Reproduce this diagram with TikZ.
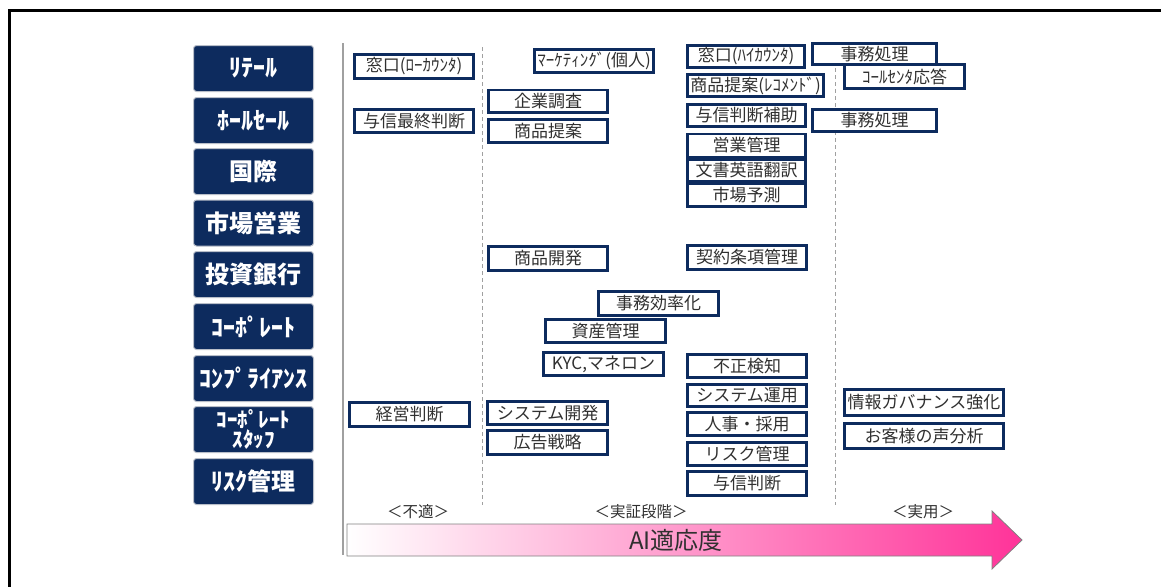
\documentclass[tikz,border=0pt]{standalone}
\usepackage{fontspec}
\setmainfont{Noto Sans CJK JP}
\usetikzlibrary{shadows}
\definecolor{navy}{HTML}{0D2B5E}
\definecolor{catborder}{HTML}{B8BEC9}
\definecolor{itemtext}{HTML}{303030}
\definecolor{pinkend}{HTML}{FF3399}
\definecolor{axisgray}{HTML}{A0A0A0}
\newcommand\mkitem[6]{\node[itembox, minimum width={#4pt-2.6pt}, minimum height={#5pt-2.6pt}] (#1) at (#2,#3) {#6};}
\begin{document}
\begin{tikzpicture}[x=1pt,y=-1pt,
  catbox/.style={fill=navy, draw=catborder, line width=1pt, rounded corners=3pt,
    minimum width=120pt, minimum height=46pt, text=white, inner sep=0pt,
    font=\fontsize{24}{26}\selectfont\bfseries},
  itembox/.style={fill=white, draw=navy, line width=2.6pt, text=itemtext, inner sep=0pt,
    font=\fontsize{17}{18}\selectfont,
    drop shadow={shadow xshift=1pt, shadow yshift=-1pt, opacity=0.22, fill=black}},
  stage/.style={text=itemtext, font=\fontsize{15.5}{17}\selectfont, inner sep=0pt},
  dline/.style={draw=axisgray, line width=1.5pt, dash pattern=on 4pt off 3pt}]
\useasboundingbox (0,0) rectangle (1161,587);
% frame
\draw[line width=3pt] (1161,10.5) -- (9.5,10.5) -- (9.5,587);
% axis and dashed separators
\coordinate (axT) at (343,43); \coordinate (axB) at (343,555);
\draw[axisgray, line width=2pt] (axT) -- (axB);
\coordinate (d1T) at (482.5,47); \coordinate (d1B) at (482.5,505);
\coordinate (d2T) at (835.5,47); \coordinate (d2B) at (835.5,505);
\draw[dline] (d1T) -- (d1B);
\draw[dline] (d2T) -- (d2B);
% categories
\node[catbox] (c1) at (253.5,68.5) {ﾘﾃｰﾙ};
\node[catbox] (c2) at (253.5,120.5) {ﾎｰﾙｾｰﾙ};
\node[catbox] (c3) at (253.5,171.5) {国際};
\node[catbox] (c4) at (253.5,223) {市場営業};
\node[catbox] (c5) at (253.5,274.5) {投資銀行};
\node[catbox] (c6) at (253.5,326.5) {ｺｰﾎﾟﾚｰﾄ};
\node[catbox] (c7) at (253.5,378.5) {ｺﾝﾌﾟﾗｲｱﾝｽ};
\node[catbox, align=center, font=\fontsize{21}{20}\selectfont\bfseries] (c8) at (253.5,429.5) {ｺｰﾎﾟﾚｰﾄ\\ｽﾀｯﾌ};
\node[catbox] (c9) at (253.5,481.5) {ﾘｽｸ管理};
% items
\mkitem{mado1}{414}{66.5}{122}{27}{窓口(ﾛｰｶｳﾝﾀ)}
\mkitem{mkt}{594}{61}{122}{26}{ﾏｰｹﾃｨﾝｸﾞ(個人)}
\mkitem{mado2}{746}{56.5}{120}{25}{窓口(ﾊｲｶｳﾝﾀ)}
\mkitem{reco}{755.5}{85.5}{139}{25}{商品提案(ﾚｺﾒﾝﾄﾞ)}
\mkitem{kigyo}{548}{101}{122}{25}{企業調査}
\mkitem{shohin}{548}{131}{122}{26}{商品提案}
\mkitem{yoshin1}{414}{121}{122}{26}{与信最終判断}
\mkitem{hojo}{746.5}{115.5}{121}{25}{与信判断補助}
\mkitem{eigyo}{746.5}{145.5}{121}{26}{営業管理}
\mkitem{bunsho}{746.5}{170.5}{121}{25}{文書英語翻訳}
\mkitem{shijo}{746.5}{195}{121}{25}{市場予測}
\mkitem{jimu1}{874.5}{54}{127}{24}{事務処理}
\mkitem{call}{904.5}{76.5}{123}{27}{ｺｰﾙｾﾝﾀ応答}
\mkitem{jimu2}{874.5}{120.5}{127}{25}{事務処理}
\mkitem{kaihatsu}{548}{258.5}{122}{27}{商品開発}
\mkitem{keiyaku}{747}{257.5}{122}{27}{契約条項管理}
\mkitem{koritsu}{658.5}{303.5}{123}{27}{事務効率化}
\mkitem{shisan}{605.5}{331}{123}{26}{資産管理}
\mkitem{kyc}{603.5}{364}{123}{26}{KYC,マネロン}
\mkitem{fusei}{747}{366}{122}{26}{不正検知}
\mkitem{sysun}{747}{395.5}{122}{25}{システム運用}
\mkitem{jinji}{747}{424}{122}{26}{人事・採用}
\mkitem{risk}{747}{454}{122}{26}{リスク管理}
\mkitem{yoshin2}{747}{483.5}{122}{27}{与信判断}
\mkitem{joho}{924}{402.5}{162}{29}{情報ガバナンス強化}
\mkitem{okyaku}{924}{436}{162}{28}{お客様の声分析}
\mkitem{keiei}{409.5}{414.5}{123}{27}{経営判断}
\mkitem{sysdev}{547.5}{413}{123}{26}{システム開発}
\mkitem{kokoku}{547.5}{442.5}{123}{27}{広告戦略}
% stage labels
\node[stage] (s1) at (418,512) {＜不適＞};
\node[stage] (s2) at (641,512) {＜実証段階＞};
\node[stage] (s3) at (923,512) {＜実用＞};
% arrow
\shade[left color=white, right color=pinkend]
  (347,524) -- (992,524) -- (992,511) -- (1022,540) -- (992,569) -- (992,556) -- (347,556) -- cycle;
\draw[draw=gray, line width=0.8pt]
  (347,524) -- (992,524) -- (992,511) -- (1022,540) -- (992,569) -- (992,556) -- (347,556) -- cycle;
\node[text=itemtext, font=\fontsize{24}{26}\selectfont, inner sep=0pt] (ai) at (676,540) {AI適応度};
\end{tikzpicture}
\end{document}
